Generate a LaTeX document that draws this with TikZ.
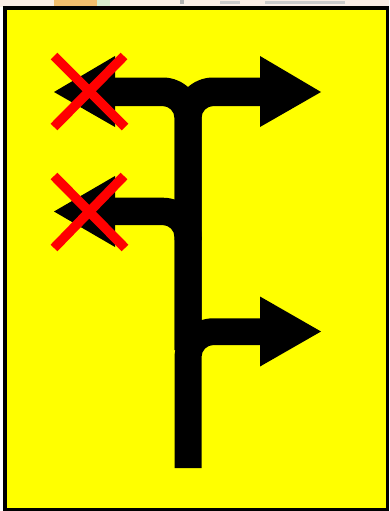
\documentclass[tikz,border=0pt]{standalone}
\usepackage{tikz}
\definecolor{signyellow}{RGB}{255,255,0}
\definecolor{signred}{RGB}{255,0,0}
\definecolor{paper}{RGB}{250,238,230}
\definecolor{patchorange}{RGB}{242,190,110}
\definecolor{patchgreen}{RGB}{215,235,205}
\tikzset{
  roadfill/.style={fill=black, draw=none},
  crossline/.style={draw=signred, line width=9.5pt, line cap=butt},
  frameline/.style={draw=black, line width=3.5pt, fill=signyellow}
}
\begin{document}
\begin{tikzpicture}[x=1pt,y=-1pt]
\useasboundingbox (0,0) rectangle (389,511);
% background outside the sign
\fill[white] (0,0) rectangle (389,511);
\fill[paper] (0,0) rectangle (389,7);
\fill[patchorange] (54,0) rectangle (97,7);
\fill[patchgreen] (97,0) rectangle (110,7);
\fill[gray!60] (180,0) rectangle (184,4);
\fill[gray!40] (220,1) rectangle (240,4);
\fill[gray!40] (265,1) rectangle (345,4);
% sign panel
\draw[frameline] (5,7.8) rectangle (387.6,509.8);
% upper left curve with stem
\path[roadfill] (112,77.5) -- (163,77.5) .. controls (184,77.5) and (201.5,95) .. (201.5,117)
  -- (201.5,350) -- (174.5,350) -- (174.5,118) .. controls (174.5,111.4) and (169.1,106) .. (162.5,106)
  -- (112,106) -- cycle;
% upper right curve
\path[roadfill] (263,77.5) -- (213,77.5) .. controls (192,77.5) and (174.5,95) .. (174.5,117)
  -- (174.5,240) -- (201.5,240) -- (201.5,118) .. controls (201.5,111.4) and (206.9,106) .. (213.5,106)
  -- (263,106) -- cycle;
% second left curve
\path[roadfill] (112,197.7) -- (163,197.7) .. controls (184,197.7) and (201.5,215) .. (201.5,237)
  -- (201.5,350) -- (174.5,350) -- (174.5,237) .. controls (174.5,230.4) and (169.1,225) .. (162.5,225)
  -- (112,225) -- cycle;
% lower right curve with stem foot
\path[roadfill] (263,318.3) -- (213,318.3) .. controls (192,318.3) and (174.5,336) .. (174.5,358)
  -- (174.5,468) -- (201.5,468) -- (201.5,357) .. controls (201.5,350.4) and (206.9,345) .. (213.5,345)
  -- (263,345) -- cycle;
% arrowheads
\path[roadfill] (54,92) -- (115,56) -- (115,127) -- cycle;
\path[roadfill] (321,92) -- (260,56) -- (260,127) -- cycle;
\path[roadfill] (54,211.5) -- (115,176) -- (115,247) -- cycle;
\path[roadfill] (321,331.5) -- (260,296.5) -- (260,366.5) -- cycle;
% red crosses
\draw[crossline] (54,56) -- (125,127);
\draw[crossline] (124,56) -- (54,127);
\draw[crossline] (54,176) -- (125,248);
\draw[crossline] (124,176) -- (54,248);
\end{tikzpicture}
\end{document}
